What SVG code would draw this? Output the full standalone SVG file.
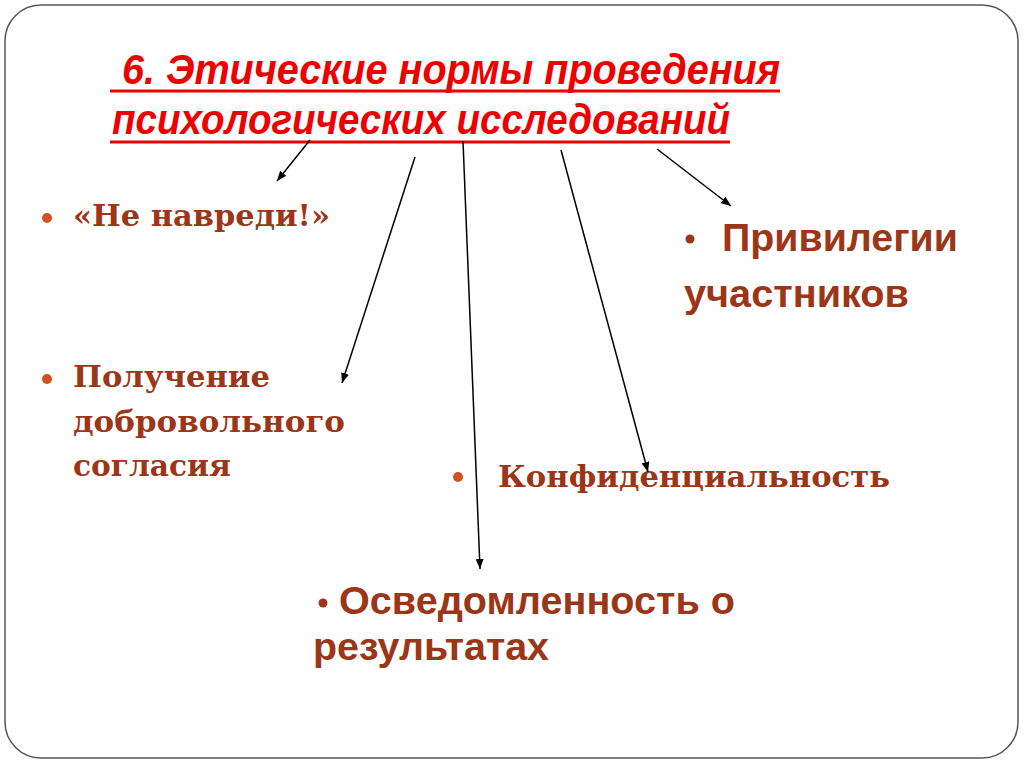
<svg xmlns="http://www.w3.org/2000/svg" width="1024" height="767" viewBox="0 0 1024 767">
<defs>
<marker id="ah" viewBox="0 0 10 8" refX="10" refY="4" markerWidth="10" markerHeight="8" markerUnits="userSpaceOnUse" orient="auto">
<path d="M0,0 L10,4 L0,8 Z" fill="#000"/>
</marker>
<style>
.title{font-family:"Liberation Sans",Arial,sans-serif;font-weight:bold;font-style:italic;font-size:42px;fill:#ee0000}
.ul{stroke:#ee0000;stroke-width:3}
.serif{font-family:"DejaVu Serif","Liberation Serif",serif;font-weight:bold;font-size:30px;fill:#9c3618}
.sans{font-family:"Liberation Sans",Arial,sans-serif;font-weight:bold;font-size:38px;fill:#9c3618}
.dot{fill:#d4511f}
.conn{stroke:#000;stroke-width:1.5;fill:none;marker-end:url(#ah)}
</style>
</defs>
<rect width="1024" height="767" fill="#fff"/>
<rect x="5" y="5" width="1013" height="753" rx="36" ry="36" fill="#fff" stroke="#555" stroke-width="1.5"/>
<g id="title">
<text class="title" x="122" y="84" textLength="658" lengthAdjust="spacingAndGlyphs">6. Этические нормы проведения</text>
<text class="title" x="112" y="134" textLength="618" lengthAdjust="spacingAndGlyphs">психологических исследований</text>
<line class="ul" x1="110" y1="91" x2="780" y2="91"/>
<line class="ul" x1="110" y1="142" x2="730" y2="142"/>
</g>
<g id="node-ne-navredi">
<circle class="dot" cx="47" cy="218" r="5"/>
<text class="serif" x="73" y="226" textLength="257" lengthAdjust="spacingAndGlyphs">«Не навреди!»</text>
</g>
<g id="node-soglasie">
<circle class="dot" cx="47" cy="379" r="5"/>
<text class="serif" x="73" y="387" textLength="197" lengthAdjust="spacingAndGlyphs">Получение</text>
<text class="serif" x="73" y="432" textLength="272" lengthAdjust="spacingAndGlyphs">добровольного</text>
<text class="serif" x="73" y="476" textLength="158" lengthAdjust="spacingAndGlyphs">согласия</text>
</g>
<g id="node-konfid">
<circle class="dot" cx="458" cy="477" r="5"/>
<text class="serif" x="498" y="487" textLength="392" lengthAdjust="spacingAndGlyphs">Конфиденциальность</text>
</g>
<g id="node-privilegii">
<circle cx="690" cy="239" r="4.5" fill="#9c3618"/>
<text class="sans" x="722" y="251" textLength="236" lengthAdjust="spacingAndGlyphs">Привилегии</text>
<text class="sans" x="684" y="307" textLength="225" lengthAdjust="spacingAndGlyphs">участников</text>
</g>
<g id="node-osvedom">
<circle cx="323" cy="603" r="4.5" fill="#9c3618"/>
<text class="sans" x="339" y="614" textLength="396" lengthAdjust="spacingAndGlyphs">Осведомленность о</text>
<text class="sans" x="313" y="660" textLength="236" lengthAdjust="spacingAndGlyphs">результатах</text>
</g>
<g id="connectors">
<line class="conn" x1="310" y1="140" x2="277" y2="181"/>
<line class="conn" x1="415" y1="157" x2="342" y2="383"/>
<line class="conn" x1="463" y1="141" x2="480" y2="569"/>
<line class="conn" x1="561" y1="150" x2="648" y2="472"/>
<line class="conn" x1="657" y1="149" x2="731" y2="206"/>
</g>
</svg>
